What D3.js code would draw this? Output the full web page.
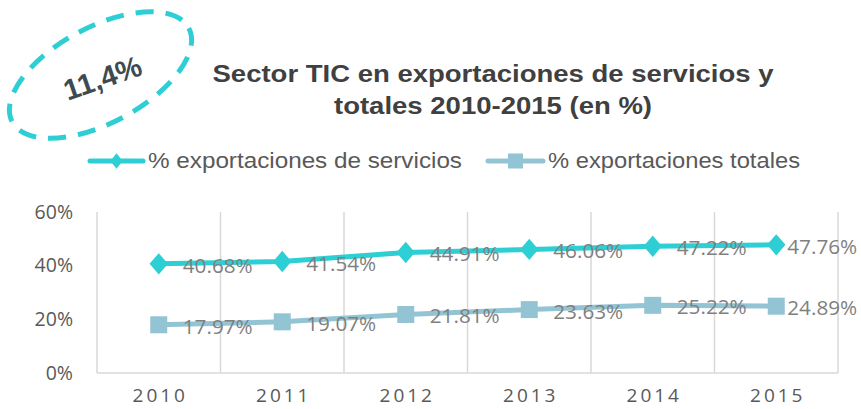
<!DOCTYPE html>
<html>
<head>
<meta charset="utf-8">
<script src="https://cdn.jsdelivr.net/npm/d3@7"></script>
<style>
  body { margin: 0; background: #fff; }
  svg { display: block; }
</style>
</head>
<body>
<svg id="chart" width="861" height="409"></svg>
<script>
// data
const years = ["2010", "2011", "2012", "2013", "2014", "2015"];
const servicios = [40.68, 41.54, 44.91, 46.06, 47.22, 47.76];
const totales = [17.97, 19.07, 21.81, 23.63, 25.22, 24.89];
const yTicks = [0, 20, 40, 60];
const seriesNames = ["% exportaciones de servicios", "% exportaciones totales"];
const titleLines = ["Sector TIC en exportaciones de servicios y", "totales 2010-2015 (en %)"];
const badgeText = "11,4%";

const colors = { serv: "#2ECFD4", tot: "#93C4D4", grid: "#D9D9D9", axisText: "#595959", label: "#7F7F7F", title: "#404040" };

const svg = d3.select("#chart");

const plot = { l: 97, r: 838, t: 212, b: 373 };

const x = d3.scaleBand().domain(years).range([plot.l, plot.r]);
const y = d3.scaleLinear().domain([0, 60]).range([plot.b, plot.t]);
const cx = d => x(d) + x.bandwidth() / 2;

// vertical grid at category boundaries
const bounds = years.map(d => x(d)).concat([plot.r]);
svg.append("g")
    .selectAll("line")
    .data(bounds)
    .join("line")
    .attr("x1", d => d).attr("x2", d => d)
    .attr("y1", y(60)).attr("y2", y(0))
    .attr("stroke", colors.grid)
    .attr("stroke-width", 1.5);

// baseline
svg.append("line")
    .attr("x1", plot.l).attr("x2", plot.r)
    .attr("y1", y(0)).attr("y2", y(0))
    .attr("stroke", colors.grid)
    .attr("stroke-width", 1.5);

// y axis
const yAxis = svg.append("g")
    .attr("transform", "translate(" + [plot.l - 24, 0] + ")")
    .call(d3.axisLeft(y).tickValues(yTicks).tickSize(0).tickPadding(0).tickFormat(d => d + "%"));
yAxis.select(".domain").remove();
yAxis.selectAll("text")
    .attr("fill", colors.axisText)
    .style("font-family", "'Open Sans', sans-serif")
    .style("font-size", "19.5px");

// x axis
const xAxis = svg.append("g")
    .attr("transform", "translate(" + [0, 402] + ")")
    .call(d3.axisBottom(x).tickSize(0).tickPadding(0));
xAxis.select(".domain").remove();
xAxis.selectAll("text")
    .attr("dy", 0)
    .attr("fill", colors.axisText)
    .attr("dx", 1.5)
    .style("font-family", "'Open Sans', sans-serif")
    .style("font-size", "19px")
    .style("letter-spacing", "3px");

// lines
const line = d3.line().x((d, i) => cx(years[i])).y(d => y(d));

const series = [
    { key: "serv", values: servicios, color: colors.serv },
    { key: "tot", values: totales, color: colors.tot }
];

series.forEach(s => {
    svg.append("path")
        .datum(s.values)
        .attr("d", line)
        .attr("fill", "none")
        .attr("stroke", s.color)
        .attr("stroke-width", 5)
        .attr("stroke-linejoin", "round");
});

// markers
svg.append("g")
    .selectAll("path")
    .data(servicios)
    .join("path")
    .attr("transform", (d, i) => "translate(" + [cx(years[i]), y(d)] + ") scale(0.95,1.1)")
    .attr("d", d3.symbol().type(d3.symbolDiamond2).size(240))
    .attr("fill", colors.serv);

svg.append("g")
    .selectAll("rect")
    .data(totales)
    .join("rect")
    .attr("x", (d, i) => cx(years[i]) - 8.5)
    .attr("y", d => y(d) - 8.5)
    .attr("width", 17).attr("height", 17)
    .attr("fill", colors.tot);

// data labels
series.forEach(s => {
    svg.append("g")
        .selectAll("text")
        .data(s.values)
        .join("text")
        .attr("x", (d, i) => cx(years[i]) + (i === years.length - 1 ? 11 : 24))
        .attr("y", d => y(d) + 9)
        .attr("fill", colors.label)
        .attr("textLength", 70)
        .attr("lengthAdjust", "spacingAndGlyphs")
        .style("font-family", "'Open Sans', sans-serif")
        .style("font-size", "20px")
        .text(d => d.toFixed(2) + "%");
});

// title
const titleWidths = [561, 318];
svg.append("g")
    .selectAll("text")
    .data(titleLines)
    .join("text")
    .attr("x", (d, i) => 493 - titleWidths[i] / 2)
    .attr("y", (d, i) => 82 + i * 32)
    .attr("textLength", (d, i) => titleWidths[i])
    .attr("lengthAdjust", "spacingAndGlyphs")
    .attr("fill", colors.title)
    .style("font-family", "'Liberation Sans', Arial, sans-serif")
    .style("font-weight", "bold")
    .style("font-size", "23px")
    .text(d => d);

// legend
const legendItems = [
    { name: seriesNames[0], color: colors.serv, x: 90, w: 53, tx: 148, tw: 314 },
    { name: seriesNames[1], color: colors.tot, x: 488, w: 55, tx: 548, tw: 252 }
];
const lg = svg.append("g").selectAll("g").data(legendItems).join("g");
lg.append("line")
    .attr("x1", d => d.x).attr("x2", d => d.x + d.w)
    .attr("y1", 161).attr("y2", 161)
    .attr("stroke", d => d.color)
    .attr("stroke-width", 5)
    .attr("stroke-linecap", "round");
lg.filter((d, i) => i === 0).append("path")
    .attr("transform", d => "translate(" + [d.x + d.w / 2, 161] + ") scale(0.8,1)")
    .attr("d", d3.symbol().type(d3.symbolDiamond2).size(150))
    .attr("fill", d => d.color);
lg.filter((d, i) => i === 1).append("rect")
    .attr("x", d => d.x + d.w / 2 - 7.5).attr("y", 153.5)
    .attr("width", 15).attr("height", 15)
    .attr("fill", d => d.color);
lg.append("text")
    .attr("x", d => d.tx)
    .attr("y", 168)
    .attr("textLength", d => d.tw)
    .attr("lengthAdjust", "spacingAndGlyphs")
    .attr("fill", colors.axisText)
    .style("font-family", "'Liberation Sans', Arial, sans-serif")
    .style("font-size", "22px")
    .text(d => d.name);

// badge
const badge = svg.append("g").attr("transform", "translate(100.5,75)");
badge.append("ellipse")
    .attr("rx", 100).attr("ry", 48)
    .attr("transform", "rotate(-28)")
    .attr("fill", "none")
    .attr("stroke", colors.serv)
    .attr("stroke-width", 5)
    .attr("stroke-dasharray", "18 12");
badge.append("text")
    .attr("transform", "translate(2,3) rotate(-19)")
    .attr("text-anchor", "middle")
    .attr("dy", "0.35em")
    .attr("fill", "#3E4A52")
    .style("font-family", "'Liberation Sans', Arial, sans-serif")
    .style("font-weight", "bold")
    .style("font-size", "29px")
    .text(badgeText);
</script>
</body>
</html>
